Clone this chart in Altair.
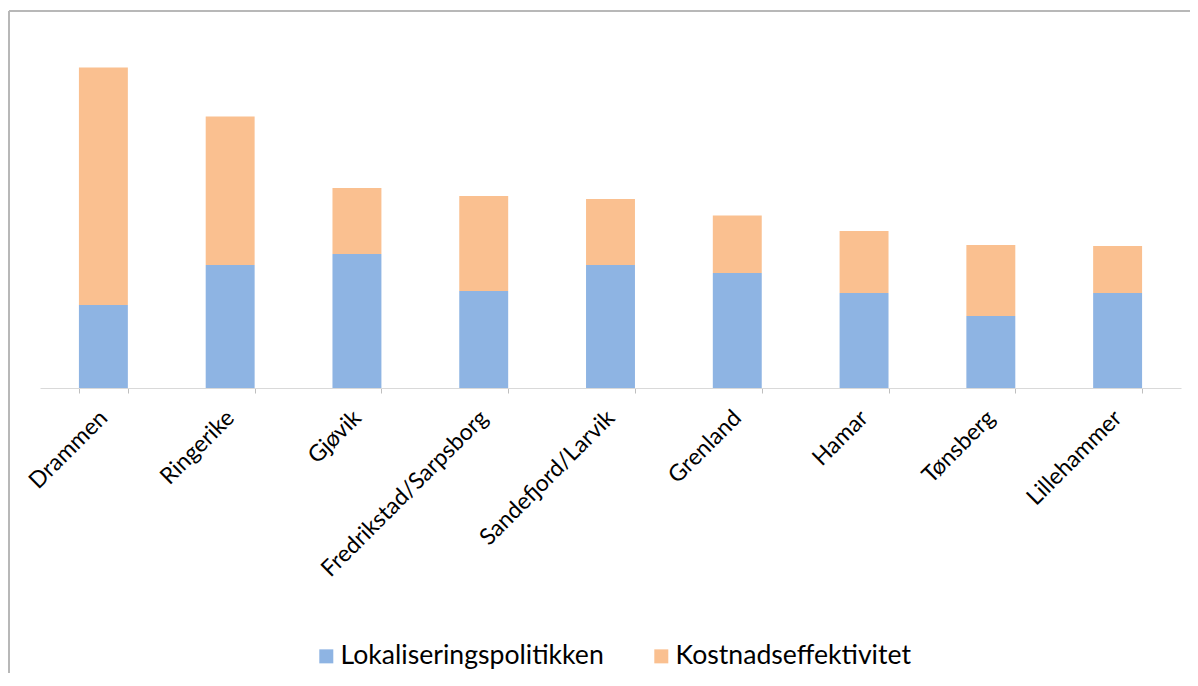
import altair as alt
import pandas as pd

categories = ["Drammen", "Ringerike", "Gjøvik", "Fredrikstad/Sarpsborg",
              "Sandefjord/Larvik", "Grenland", "Hamar", "Tønsberg", "Lillehammer"]
series_names = ["Lokaliseringspolitikken", "Kostnadseffektivitet"]
lokalisering = [83, 123, 134, 97, 123, 115, 95, 72, 95]
kostnad = [237.5, 148.5, 66, 95, 66, 57.5, 62, 71, 47]
colors = ["#8EB4E3", "#FAC090"]

rows = []
for i, c in enumerate(categories):
    rows.append({"kategori": c, "serie": series_names[0], "verdi": lokalisering[i], "rekkefolge": 0})
    rows.append({"kategori": c, "serie": series_names[1], "verdi": kostnad[i], "rekkefolge": 1})
df = pd.DataFrame(rows)

W, H = 1141, 350
PAD = {"left": 32, "top": 30, "right": 9, "bottom": 285}
FONT = "Lato"

bars = alt.Chart(df).mark_bar().encode(
    x=alt.X("kategori:N", sort=categories, title=None,
            scale=alt.Scale(paddingInner=0.614, paddingOuter=0.307),
            axis=alt.Axis(labelAngle=315, labelFontSize=23, labelFont=FONT,
                          labelColor="black", domainColor="#d9d9d9",
                          tickColor="#bfbfbf", tickSize=5, tickBand="extent",
                          labelPadding=21, grid=False, labelAlign="right",
                          labelBaseline="middle", labelLimit=0)),
    y=alt.Y("verdi:Q", stack="zero", axis=None,
            scale=alt.Scale(domain=[0, 350], nice=False)),
    color=alt.Color("serie:N", sort=series_names,
                    scale=alt.Scale(domain=series_names, range=colors),
                    legend=alt.Legend(title=None, orient="none", legendX=273,
                                      legendY=605, direction="horizontal",
                                      symbolType="square", symbolSize=196,
                                      symbolStrokeWidth=0, labelFontSize=26.6,
                                      labelFont=FONT, labelColor="black",
                                      columnPadding=44, labelOffset=1,
                                      padding=0, labelLimit=0)),
    order=alt.Order("rekkefolge:Q"),
)

frame_data = alt.Data(values=[{"a": 1}])
top_line = alt.Chart(frame_data).mark_rule(color="#b8b8b8", strokeWidth=2).encode(
    x=alt.value(-31), x2=alt.value(W + PAD["right"]), y=alt.value(-27))
left_line = alt.Chart(frame_data).mark_rule(color="#b8b8b8", strokeWidth=2).encode(
    x=alt.value(-31), y=alt.value(-27), y2=alt.value(H + PAD["bottom"]))

chart = alt.layer(bars, top_line, left_line).properties(
    width=W, height=H,
    autosize=alt.AutoSizeParams(type="none"),
    padding=PAD,
).configure(background="white").configure_view(stroke=None, strokeWidth=0)

chart.save("out.html", embed_options={"renderer": "svg", "actions": False})
